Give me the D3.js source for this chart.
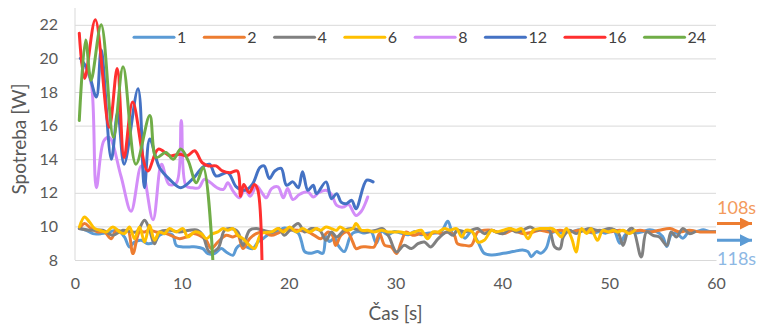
<!DOCTYPE html>
<html>
<head>
<meta charset="utf-8">
<script src="https://cdn.jsdelivr.net/npm/d3@7"></script>
<style>
  body { margin: 0; background: #fff; }
  svg text { font-family: Lato, "Open Sans", sans-serif; }
</style>
</head>
<body>
<svg id="chart" width="757" height="329"></svg>
<script>
// legend names and colours, in drawing order
const names = ['1', '2', '4', '6', '8', '12', '16', '24'];
const colors = ['#5B9BD5', '#ED7D31', '#808080', '#FFC000', '#D38DF8', '#4472C4', '#FF2F2F', '#70AD47'];

// [time s, power W]
const s1 = [[0.4,9.87],[1.05,9.77],[1.67,9.57],[2.45,9.57],[3.23,9.67],[4.01,9.77],[4.63,9.37],[5.1,8.78],[5.57,9.07],[6.2,9.17],[6.82,8.97],[7.44,9.07],[7.91,9.47],[8.54,9.57],[9.16,9.47],[9.47,8.87],[10.1,8.78],[10.72,8.78],[11.35,8.78],[11.97,8.68],[12.44,8.38],[13.06,8.38],[13.69,8.68],[14.15,8.48],[14.78,8.28],[15.09,8.68],[15.4,8.87],[16.03,8.78],[16.65,8.68],[17.12,9.07],[17.59,9.27],[18.3,9.6],[19.0,9.7],[19.6,9.9],[20.2,9.8],[20.9,9.6],[21.2,9.1],[21.5,8.5],[22.1,8.4],[22.7,8.5],[23.2,8.4],[23.5,9.4],[23.8,9.1],[24.3,9.3],[24.6,8.9],[25.2,8.5],[25.7,9.3],[26.0,9.6],[26.5,9.7],[27.1,9.6],[27.7,9.7],[28.2,9.0],[28.7,9.7],[29.3,9.5],[29.9,9.7],[30.5,9.6],[31.2,9.5],[31.8,9.7],[32.4,9.5],[33.0,9.6],[33.7,9.6],[34.3,9.7],[34.9,10.3],[35.4,9.5],[35.8,9.8],[36.5,9.3],[37.1,9.7],[37.7,9.1],[38.3,8.4],[39.0,8.3],[40.1,8.4],[41.0,8.5],[41.9,8.6],[42.4,8.5],[42.7,8.2],[43.2,8.5],[43.6,8.4],[44.1,8.7],[44.6,9.6],[45.1,9.7],[45.5,9.6],[46.0,9.7],[46.6,9.7],[47.2,9.8],[47.9,9.7],[48.5,9.6],[49.1,9.7],[49.7,9.6],[50.4,9.8],[51.0,9.0],[51.5,9.5],[51.9,9.7],[52.5,9.6],[53.2,9.7],[53.8,9.8],[54.4,9.7],[55.0,9.4],[55.4,8.8],[55.8,9.5],[56.3,9.6],[56.9,9.3],[57.5,9.7],[58.2,9.7],[58.8,9.8],[59.4,9.7],[60,9.7]];
const s2 = [[0.42,9.87],[0.89,10.17],[1.51,9.87],[2.14,9.67],[2.76,9.67],[3.39,9.27],[3.85,9.77],[4.48,9.67],[4.95,9.77],[5.42,8.38],[6.04,9.67],[6.51,9.67],[6.98,9.77],[7.6,9.67],[8.54,9.57],[9.78,9.27],[10.41,9.37],[11.03,9.57],[11.66,9.47],[12.28,9.17],[12.75,8.68],[13.37,9.07],[14.15,9.47],[14.78,9.37],[15.25,9.47],[15.72,8.68],[16.34,9.27],[16.96,9.57],[17.59,9.67],[18.4,9.47],[19.0,9.6],[19.6,9.77],[20.9,9.77],[21.8,9.67],[22.4,9.47],[23.0,9.27],[23.7,9.67],[24.1,9.47],[24.4,8.87],[24.9,9.47],[25.5,9.67],[26.0,9.07],[26.3,8.68],[26.8,8.78],[27.4,8.78],[28.0,8.78],[28.5,9.57],[29.0,8.87],[29.6,8.78],[30.1,8.38],[30.5,9.0],[31.0,9.67],[31.6,9.47],[32.4,9.57],[33.0,9.47],[33.7,9.67],[34.3,9.57],[34.9,9.67],[35.5,9.47],[35.8,8.97],[36.5,8.87],[37.1,8.87],[37.7,9.67],[38.3,9.77],[39.0,9.77],[40.1,9.57],[41.0,9.77],[41.9,9.57],[42.9,9.67],[43.5,9.77],[44.4,9.67],[45.4,9.77],[46.3,9.67],[47.2,9.77],[48.2,9.67],[49.1,9.77],[50.0,9.67],[51.0,9.77],[51.9,9.67],[52.9,9.77],[53.8,9.67],[54.7,9.77],[55.7,9.87],[56.6,9.67],[57.5,9.77],[58.5,9.67],[59.4,9.67],[60,9.67]];
const s4 = [[0.42,9.87],[1.36,9.77],[2.6,9.77],[3.54,9.47],[4.48,9.77],[5.73,9.67],[6.51,10.36],[6.98,9.77],[7.44,8.97],[7.91,9.67],[8.85,9.77],[9.78,9.67],[10.72,9.77],[11.5,9.77],[11.97,9.47],[12.59,8.48],[13.37,8.68],[14.0,9.77],[14.6,9.87],[15.25,9.67],[15.72,8.87],[16.34,9.77],[16.96,9.87],[17.59,9.77],[18.5,9.67],[19.1,9.87],[19.6,9.47],[20.1,9.77],[20.9,10.17],[21.5,9.67],[22.1,9.87],[22.9,9.77],[23.5,9.17],[24.0,9.67],[24.5,9.37],[25.2,9.77],[26.0,9.87],[26.6,9.77],[27.4,9.67],[28.2,9.77],[28.8,9.87],[29.4,9.37],[30.1,8.48],[30.8,8.87],[31.5,8.68],[32.1,8.97],[32.7,9.07],[33.3,8.78],[34.0,9.27],[34.8,9.67],[35.4,9.47],[35.8,9.77],[36.5,9.67],[37.1,9.77],[37.7,9.87],[38.3,9.57],[39.0,9.77],[39.4,9.67],[40.1,9.57],[40.7,9.87],[41.3,9.67],[41.9,9.77],[42.6,9.97],[43.2,9.77],[43.8,9.87],[44.4,9.77],[44.9,8.78],[45.4,8.68],[45.7,9.37],[46.3,9.77],[46.9,9.57],[47.6,9.77],[48.2,9.87],[48.8,9.77],[49.4,9.77],[50.0,9.87],[50.8,9.67],[51.3,8.87],[51.8,9.77],[52.2,9.87],[53.0,8.18],[53.5,9.67],[54.1,9.47],[54.7,9.37],[55.4,8.87],[55.8,9.67],[56.3,9.37],[56.9,9.87],[57.5,9.57],[58.0,9.67]];
const s6 = [[0.42,9.97],[0.89,10.56],[1.36,10.26],[1.83,9.87],[2.3,9.77],[2.92,9.67],[3.54,9.97],[4.17,9.67],[4.63,9.57],[5.1,9.97],[5.57,9.27],[6.04,9.97],[6.51,9.07],[6.98,10.07],[7.44,9.17],[7.91,9.67],[8.38,9.57],[8.85,9.87],[9.47,9.67],[10.1,9.87],[10.56,9.37],[11.19,9.67],[11.81,9.57],[12.28,9.27],[12.9,9.57],[13.37,9.67],[13.84,9.87],[14.31,9.77],[14.78,9.87],[15.25,9.47],[15.72,9.27],[16.34,8.87],[16.81,8.68],[17.43,9.57],[18.4,9.67],[19.0,9.87],[19.5,9.67],[20.1,9.97],[20.7,9.67],[21.3,9.87],[21.95,9.67],[22.6,9.87],[23.0,9.77],[23.5,9.97],[24.0,9.87],[24.5,9.77],[24.8,9.97],[25.4,9.77],[26.0,9.87],[26.3,10.17],[26.8,9.77],[27.4,9.77],[28.0,9.67],[28.7,9.77],[29.3,9.67],[29.9,9.67],[30.5,9.67],[31.2,9.57],[31.8,9.67],[32.4,9.77],[33.0,9.27],[33.5,9.67],[34.0,9.67],[34.6,9.87],[35.1,9.77],[35.7,9.87],[36.2,9.37],[36.6,9.77],[37.2,9.67],[37.7,9.07],[38.3,9.17],[39.0,9.77],[39.4,9.67],[40.1,9.77],[40.7,9.87],[41.3,9.77],[41.8,9.87],[42.4,9.27],[42.9,9.77],[43.5,9.87],[44.1,9.87],[44.7,9.87],[45.2,9.57],[45.5,9.37],[46.0,9.87],[46.5,9.27],[46.9,8.48],[47.4,9.87],[47.9,9.57],[48.3,9.87],[48.9,9.17],[49.4,9.77],[49.9,9.67],[50.4,9.77],[50.8,9.67],[51.3,9.77],[51.9,9.57],[52.4,9.77]];
const s8 = [[0.6,19.8],[1.1,19.3],[1.55,18.4],[2.0,12.3],[2.7,15.1],[3.2,15.3],[4.3,13.0],[5.25,10.9],[6.2,13.6],[7.3,10.4],[8.1,13.7],[8.8,12.5],[9.5,12.6],[9.95,16.3],[10.4,12.4],[11.0,12.3],[11.6,12.3],[12.1,12.8],[12.7,12.6],[13.3,12.3],[13.9,12.2],[14.3,12.6],[14.8,12.1],[15.4,11.7],[15.9,12.2],[16.4,11.8],[17.0,12.4],[17.5,12.0],[17.9,11.7],[18.4,12.25],[19.0,12.35],[19.5,11.7],[19.9,12.25],[20.4,11.6],[21.0,11.9],[21.8,12.05],[22.3,11.75],[22.8,12.0],[23.5,12.15],[24.0,11.9],[24.5,11.25],[25.1,11.15],[25.6,11.3],[26.3,10.65],[26.8,10.9],[27.4,11.75]];
const s12 = [[0.5,20.0],[1.2,19.3],[2.0,17.7],[2.45,20.5],[3.4,14.0],[4.0,16.8],[4.6,13.7],[5.9,18.2],[6.5,12.3],[7.0,15.2],[7.9,13.5],[8.85,12.8],[9.9,12.3],[11.2,12.95],[11.9,13.5],[12.6,13.7],[13.2,13.0],[14.3,13.2],[15.1,12.35],[15.9,12.15],[16.6,12.5],[17.3,13.5],[17.7,13.6],[18.2,12.85],[18.7,13.3],[19.3,13.45],[19.8,12.45],[20.4,12.65],[20.9,12.3],[21.3,13.25],[21.8,12.15],[22.3,12.45],[22.6,11.95],[23.5,12.65],[24.0,11.65],[24.5,11.95],[24.9,11.45],[25.4,11.35],[25.9,11.55],[26.3,11.05],[27.3,12.75],[27.9,12.65]];
const s16 = [[0.4,21.5],[0.9,18.8],[1.9,22.3],[3.2,15.9],[3.95,19.4],[4.6,14.1],[5.4,17.4],[6.8,13.3],[7.8,14.6],[8.9,14.2],[9.8,14.3],[10.5,14.2],[11.2,14.5],[11.9,13.8],[12.5,13.6],[13.2,13.6],[13.8,13.3],[14.5,13.2],[15.2,13.3],[15.5,11.8],[15.8,12.5],[16.3,12.0],[16.8,12.5],[17.1,12.2],[17.5,8.0]];
const s24 = [[0.4,16.3],[1.0,21.1],[1.5,18.7],[2.45,22.0],[3.6,15.3],[4.5,19.5],[5.7,13.7],[7.0,16.6],[7.6,14.1],[8.5,14.4],[9.2,14.0],[9.9,14.6],[10.6,13.9],[11.35,12.6],[12.0,13.5],[12.9,8.0]];
const seriesValues = [s1, s2, s4, s6, s8, s12, s16, s24];

const xTicks = [0, 10, 20, 30, 40, 50, 60];
const yTicks = [8, 10, 12, 14, 16, 18, 20, 22];

// runs that continue past 60 s
const notes = [
  { label: '108s', value: 10.17, color: '#ED7D31', textColor: '#F39A5C', above: true },
  { label: '118s', value: 9.17, color: '#5B9BD5', textColor: '#8DB8E4', above: false }
];

const W = 757, H = 329;
const margin = { top: 8, right: 41, bottom: 69, left: 75 };
const width = W - margin.left - margin.right;
const height = H - margin.top - margin.bottom;

const svg = d3.select('#chart');
const g = svg.append('g').attr('transform', `translate(${margin.left},${margin.top})`);

const x = d3.scaleLinear().domain([0, 60]).range([0, width]);
const y = d3.scaleLinear().domain([8, 23]).range([height, 0]);

// grid + y axis
const yAxis = g.append('g')
  .call(d3.axisLeft(y).tickValues(yTicks).tickSize(-width).tickPadding(17));
yAxis.select('.domain').remove();
yAxis.selectAll('.tick line').attr('stroke', '#D9D9D9').attr('stroke-width', 1);
yAxis.selectAll('.tick text').style('font-size', '16px').style('fill', '#595959');

g.append('line')
  .attr('x1', 0).attr('x2', 0).attr('y1', 0).attr('y2', height)
  .attr('stroke', '#D9D9D9');

const xAxis = g.append('g')
  .attr('transform', `translate(0,${height})`)
  .call(d3.axisBottom(x).tickValues(xTicks).tickSize(0).tickPadding(18));
xAxis.select('.domain').attr('stroke', '#D9D9D9');
xAxis.selectAll('.tick text').style('font-size', '16px').style('fill', '#595959');

// series
g.append('clipPath').attr('id', 'plot')
  .append('rect').attr('width', width).attr('height', height);

const line = d3.line()
  .x(d => x(d[0]))
  .y(d => y(d[1]))
  .curve(d3.curveCatmullRom.alpha(0.5));

g.append('g').attr('clip-path', 'url(#plot)')
  .selectAll('path')
  .data(seriesValues)
  .enter()
  .append('path')
  .attr('fill', 'none')
  .attr('stroke', (d, i) => colors[i])
  .attr('stroke-width', 3)
  .attr('stroke-linejoin', 'round')
  .attr('stroke-linecap', 'round')
  .attr('d', line);

// legend
let lx = 134;
const ly = 37.3 - margin.top;
names.forEach((n, i) => {
  const item = g.append('g');
  item.append('line')
    .attr('x1', lx - margin.left).attr('x2', lx - margin.left + 40)
    .attr('y1', ly).attr('y2', ly)
    .attr('stroke', colors[i]).attr('stroke-width', 3).attr('stroke-linecap', 'round');
  const t = item.append('text')
    .attr('x', lx - margin.left + 43).attr('y', ly).attr('dy', '0.35em')
    .style('font-size', '16px').style('fill', '#404040')
    .text(n);
  lx += 43 + t.node().getComputedTextLength() + 18;
});

// arrows on the right
const defs = svg.append('defs');
notes.forEach((a, i) => {
  defs.append('marker')
    .attr('id', 'arr' + i)
    .attr('viewBox', '0 0 10 10').attr('refX', 10).attr('refY', 5)
    .attr('markerWidth', 4).attr('markerHeight', 4)
    .attr('markerUnits', 'strokeWidth').attr('orient', 'auto')
    .append('path').attr('d', 'M0,0L10,5L0,10Z').attr('fill', a.color);
  const ay = y(a.value);
  g.append('line')
    .attr('x1', width + 1).attr('x2', width + 36)
    .attr('y1', ay).attr('y2', ay)
    .attr('stroke', a.color).attr('stroke-width', 3)
    .attr('marker-end', `url(#arr${i})`);
  g.append('text')
    .attr('x', width + 1).attr('y', a.above ? ay - 10 : ay + 25)
    .style('font-size', '18px').style('fill', a.textColor)
    .text(a.label);
});

// axis titles
svg.append('text')
  .attr('transform', `translate(26,${margin.top + y(15.2)}) rotate(-90)`)
  .attr('text-anchor', 'middle')
  .style('font-size', '19px').style('fill', '#595959')
  .text('Spotreba [W]');

svg.append('text')
  .attr('x', margin.left + x(30)).attr('y', 320)
  .attr('text-anchor', 'middle')
  .style('font-size', '19px').style('fill', '#595959')
  .text('Čas [s]');
</script>
</body>
</html>
